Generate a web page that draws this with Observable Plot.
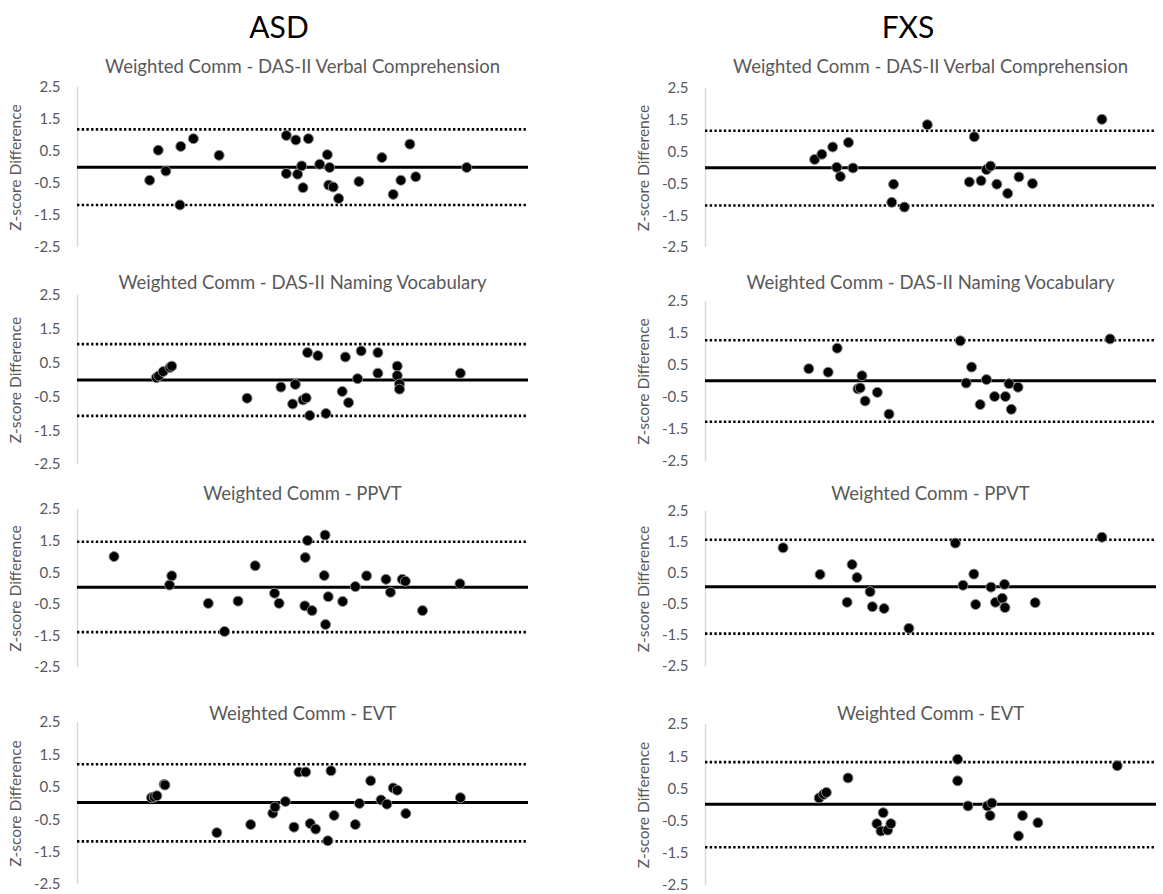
<!DOCTYPE html>
<html><head><meta charset="utf-8">
<script src="https://cdn.jsdelivr.net/npm/d3@7"></script>
<script src="https://cdn.jsdelivr.net/npm/@observablehq/plot@0.6"></script>
<style>
body{margin:0;background:#fff;font-family:Lato,sans-serif;}
#root{position:relative;width:1163px;height:894px;overflow:hidden;background:#fff;}
.title{position:absolute;font-size:30px;color:#000;transform:translate(-50%,-50%);white-space:nowrap;line-height:1;}
.sub{position:absolute;font-size:18.5px;color:#595959;transform:translate(-50%,-50%);white-space:nowrap;line-height:1;}
.panel{position:absolute;}
</style></head><body><div id="root"></div>
<script>
// ---- data ----
const groups = ["ASD", "FXS"];
const measures = [
  "Weighted Comm - DAS-II Verbal Comprehension",
  "Weighted Comm - DAS-II Naming Vocabulary",
  "Weighted Comm - PPVT",
  "Weighted Comm - EVT"
];
const yTicks = [-2.5, -1.5, -0.5, 0.5, 1.5, 2.5];
const yTitle = "Z-score Difference";

// [mean (relative position), z-score difference]
const asdVerbal = [[16.0,-0.40],[17.9,0.54],[19.6,-0.11],[22.9,0.66],[22.7,-1.17],[25.7,0.90],[31.4,0.38],
  [46.3,1.00],[48.4,0.86],[51.2,0.90],[46.3,-0.19],[48.8,-0.21],[49.7,0.05],[50.0,-0.63],[53.7,0.10],
  [55.4,0.40],[55.9,0.00],[55.7,-0.55],[56.7,-0.61],[57.9,-0.97],[62.4,-0.44],[67.5,0.31],[70.0,-0.84],
  [71.7,-0.40],[73.7,0.73],[75.0,-0.29],[86.3,0.00]];
const asdNaming = [[17.5,0.07],[18.0,0.12],[19.0,0.25],[20.5,0.37],[20.9,0.41],[37.6,-0.54],[45.1,-0.21],
  [48.3,-0.13],[47.7,-0.71],[50.0,-0.59],[50.7,-0.53],[51.0,0.81],[53.3,0.72],[51.5,-1.05],[55.1,-0.99],
  [58.7,-0.34],[59.4,0.68],[60.1,-0.67],[62.1,0.04],[62.9,0.86],[66.6,0.81],[66.6,0.20],[70.9,0.41],
  [70.9,0.13],[71.4,-0.12],[71.4,-0.27],[84.9,0.20]];
const asdPPVT = [[8.1,1.01],[20.4,0.11],[20.9,0.40],[29.0,-0.47],[32.6,-1.36],[35.6,-0.40],[39.4,0.72],
  [43.7,-0.15],[44.7,-0.47],[50.5,0.98],[51.0,1.52],[50.4,-0.55],[52.0,-0.70],[54.7,0.41],[54.9,1.69],
  [55.6,-0.26],[55.0,-1.14],[58.8,-0.41],[61.6,0.06],[64.1,0.40],[68.4,0.29],[69.4,-0.12],[72.0,0.29],
  [72.7,0.23],[76.5,-0.70],[84.8,0.15]];
const asdEVT = [[16.4,0.18],[17.0,0.20],[17.6,0.24],[19.2,0.59],[19.4,0.57],[30.9,-0.90],[38.4,-0.65],
  [43.3,-0.30],[43.8,-0.11],[46.1,0.06],[48.0,-0.73],[49.1,0.97],[50.6,0.97],[51.6,-0.62],[52.8,-0.79],
  [55.5,-1.15],[56.2,1.01],[56.9,-0.37],[61.6,-0.65],[62.5,0.00],[65.0,0.70],[67.3,0.11],[68.6,-0.02],
  [70.0,0.48],[70.9,0.41],[72.8,-0.31],[84.9,0.18]];
const fxsVerbal = [[24.2,0.27],[25.8,0.43],[28.2,0.66],[31.7,0.80],[29.1,0.02],[32.7,0.00],[29.9,-0.27],
  [41.7,-0.51],[41.3,-1.08],[44.1,-1.23],[49.2,1.36],[59.6,0.98],[58.5,-0.44],[61.1,-0.40],[62.3,-0.05],
  [63.2,0.06],[64.6,-0.51],[67.0,-0.80],[69.5,-0.28],[72.5,-0.49],[87.9,1.53]];
const fxsNaming = [[22.9,0.40],[27.2,0.29],[29.2,1.04],[34.7,0.18],[33.8,-0.23],[34.3,-0.20],[35.4,-0.61],
  [38.1,-0.34],[40.7,-1.02],[56.5,1.27],[57.8,-0.05],[59.0,0.45],[60.9,-0.72],[62.3,0.06],[64.1,-0.47],
  [66.5,-0.47],[67.3,-0.07],[67.8,-0.87],[69.3,-0.18],[89.7,1.33]];
const fxsPPVT = [[17.2,1.33],[25.4,0.47],[32.5,0.79],[33.6,0.37],[31.4,-0.43],[36.5,-0.09],[37.0,-0.57],
  [39.6,-0.63],[45.1,-1.27],[55.4,1.48],[57.1,0.12],[59.5,0.48],[59.9,-0.50],[63.3,0.06],[64.3,-0.43],
  [65.8,-0.30],[66.3,0.15],[66.4,-0.60],[73.1,-0.44],[87.9,1.67]];
const fxsEVT = [[25.2,0.22],[26.2,0.33],[26.8,0.39],[31.6,0.84],[39.4,-0.24],[38.0,-0.58],[38.9,-0.81],
  [40.4,-0.78],[41.1,-0.58],[55.9,1.42],[55.9,0.75],[58.2,-0.03],[62.5,-0.03],[63.5,0.06],[63.1,-0.33],
  [69.4,-0.96],[70.3,-0.33],[73.7,-0.55],[91.3,1.22]];

// mean difference and limits of agreement per measure
const asdBias  = [0.01, 0.00, 0.04, 0.03];
const asdUpper = [1.19, 1.06, 1.48, 1.21];
const asdLower = [-1.17, -1.06, -1.38, -1.17];
const fxsBias  = [0.01, 0.02, 0.07, 0.02];
const fxsUpper = [1.17, 1.29, 1.59, 1.33];
const fxsLower = [-1.18, -1.26, -1.44, -1.31];

// ---- layout ----
const colLeft = [0, 628];
const subY = [66, 282, 493, 713];
const titleY = 26;
const titleX = [279, 908];
// pixel rows of y = 2.5 and y = -2.5 per [group][measure]
const rowSpan = [
  [[87,247],[295,464],[509,667],[722,884]],
  [[88,247],[301,461],[511,666],[724,885]]
];

const root = document.getElementById("root");
const series = [[asdVerbal, asdNaming, asdPPVT, asdEVT],[fxsVerbal, fxsNaming, fxsPPVT, fxsEVT]];
const bias = [asdBias, fxsBias], upper = [asdUpper, fxsUpper], lower = [asdLower, fxsLower];

groups.forEach((g, gi) => {
  const t = document.createElement("div");
  t.className = "title"; t.textContent = g;
  t.style.left = titleX[gi] + "px"; t.style.top = titleY + "px";
  root.appendChild(t);
  measures.forEach((m, mi) => {
    const [yTop, yBot] = rowSpan[gi][mi];
    const mt = 10, mb = 10;
    const chart = Plot.plot({
      width: 535, height: (yBot - yTop) + mt + mb,
      marginLeft: 77, marginRight: 7, marginTop: mt, marginBottom: mb,
      style: {fontFamily: "Lato, sans-serif", fontSize: "15px", color: "#595959", background: "transparent", overflow: "visible"},
      x: {domain: [0, 100], axis: null},
      y: {domain: [-2.5, 2.5], ticks: yTicks, tickSize: 0, tickPadding: 17,
          tickFormat: d => d.toFixed(1), label: null},
      marks: [
        Plot.ruleX([0], {stroke: "#d9d9d9", strokeWidth: 1.5}),
        Plot.text([yTitle], {frameAnchor: "left", textAnchor: "middle", rotate: -90, dx: -61, fill: "#595959", fontSize: 15.5}),
        Plot.ruleY([upper[gi][mi], lower[gi][mi]], {stroke: "#000", strokeWidth: 2.6, strokeDasharray: "2.4,2.3"}),
        Plot.ruleY([bias[gi][mi]], {stroke: "#000", strokeWidth: 3}),
        Plot.dot(series[gi][mi], {x: d => d[0], y: d => d[1], r: 5, fill: "#000", stroke: "#8a8a8a", strokeWidth: 1})
      ]
    });
    chart.classList.add("panel");
    chart.style.left = colLeft[gi] + "px";
    chart.style.top = (yTop - mt) + "px";
    root.appendChild(chart);
    const s = document.createElement("div");
    s.className = "sub"; s.textContent = m;
    s.style.left = (colLeft[gi] + (77 + 528) / 2) + "px"; s.style.top = subY[mi] + "px";
    root.appendChild(s);
  });
});
</script></body></html>
